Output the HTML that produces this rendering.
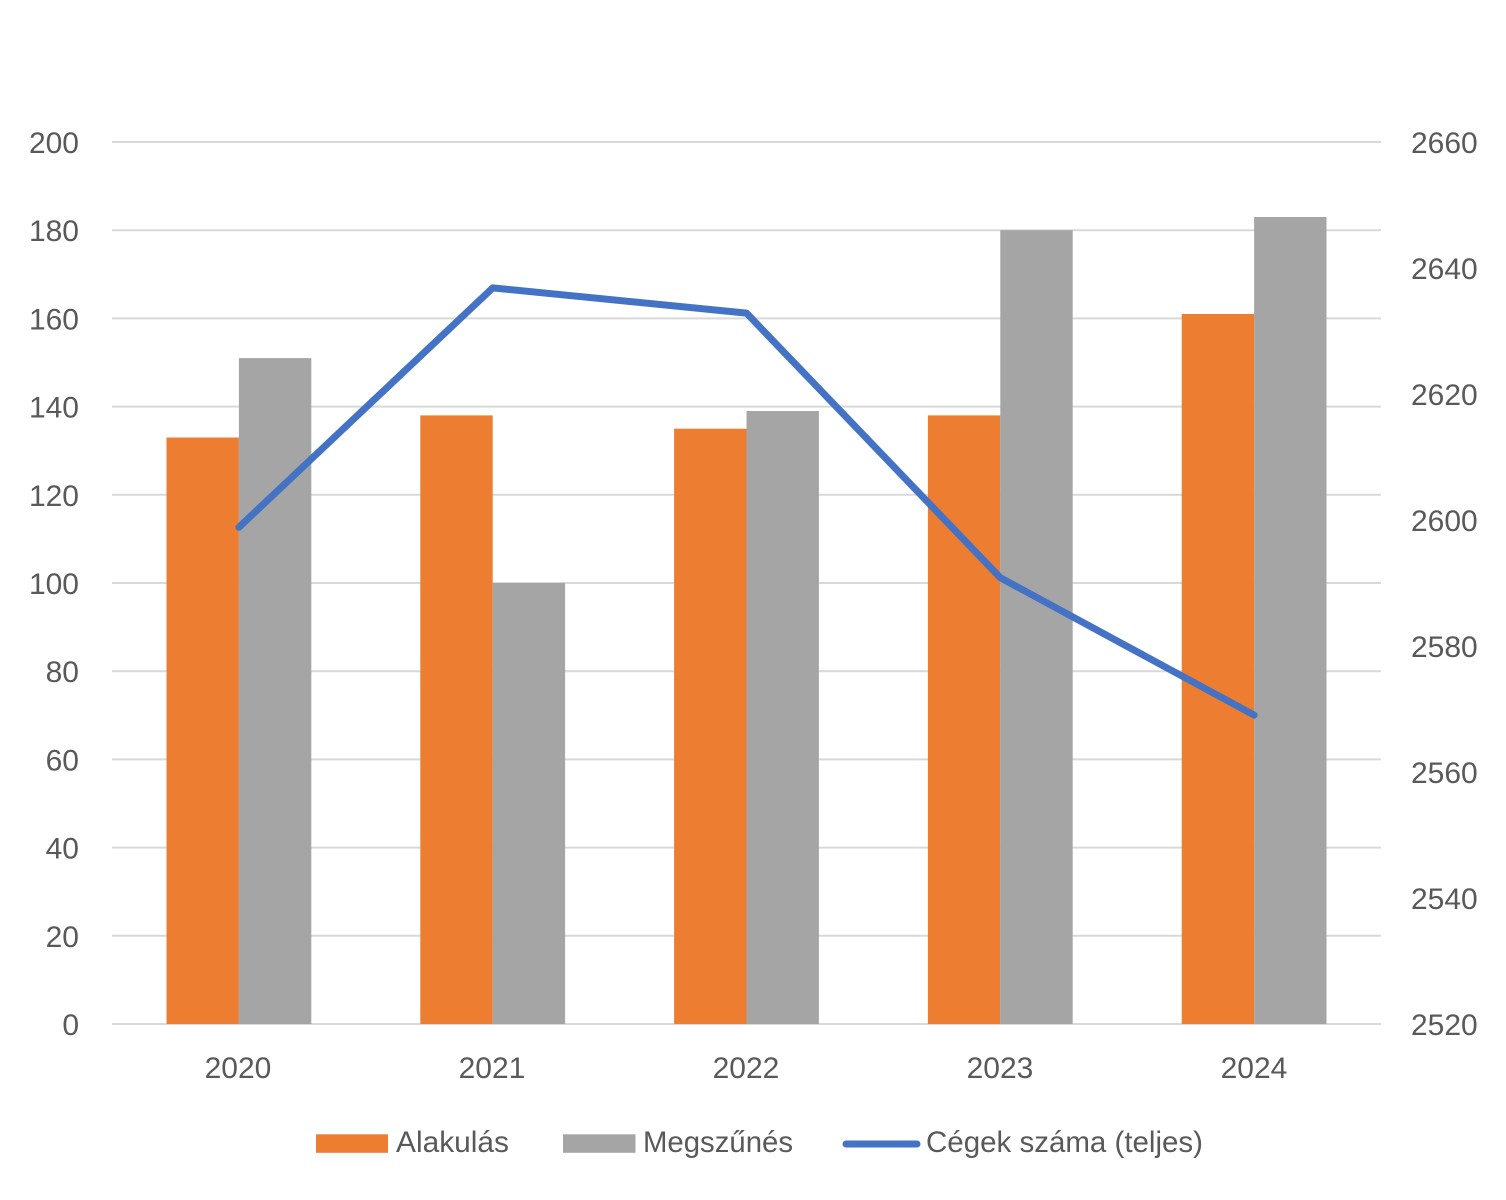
<!DOCTYPE html>
<html>
<head>
<meta charset="utf-8">
<style>
html,body{margin:0;padding:0;background:#fff;}
svg{display:block;}
text{font-family:"Liberation Sans",sans-serif;fill:#595959;font-size:30px;}
</style>
</head>
<body>
<svg width="1506" height="1200" viewBox="0 0 1506 1200" xmlns="http://www.w3.org/2000/svg">
<rect width="1506" height="1200" fill="#fff"/>
<g stroke="#D9D9D9" stroke-width="2">
<line x1="112" y1="142" x2="1381" y2="142"/>
<line x1="112" y1="230.2" x2="1381" y2="230.2"/>
<line x1="112" y1="318.4" x2="1381" y2="318.4"/>
<line x1="112" y1="406.6" x2="1381" y2="406.6"/>
<line x1="112" y1="494.8" x2="1381" y2="494.8"/>
<line x1="112" y1="583" x2="1381" y2="583"/>
<line x1="112" y1="671.2" x2="1381" y2="671.2"/>
<line x1="112" y1="759.4" x2="1381" y2="759.4"/>
<line x1="112" y1="847.6" x2="1381" y2="847.6"/>
<line x1="112" y1="935.8" x2="1381" y2="935.8"/>
<line x1="112" y1="1024" x2="1381" y2="1024"/>
</g>
<!-- bars: scale 4.41 px/unit, base 1024 -->
<g fill="#ED7D31">
<rect x="166.5" y="437.5" width="72.4" height="586.5"/>
<rect x="420.3" y="415.4" width="72.4" height="608.6"/>
<rect x="674.1" y="428.7" width="72.4" height="595.3"/>
<rect x="927.9" y="415.4" width="72.4" height="608.6"/>
<rect x="1181.7" y="314" width="72.4" height="710"/>
</g>
<g fill="#A5A5A5">
<rect x="238.9" y="358.1" width="72.4" height="665.9"/>
<rect x="492.7" y="583" width="72.4" height="441"/>
<rect x="746.5" y="411" width="72.4" height="613"/>
<rect x="1000.3" y="230.2" width="72.4" height="793.8"/>
<rect x="1254.1" y="217" width="72.4" height="807"/>
</g>
<polyline points="238.9,527.3 492.7,287.9 746.5,313.1 1000.3,577.7 1254.1,715.1" fill="none" stroke="#4472C4" stroke-width="7" stroke-linecap="round" stroke-linejoin="round"/>
<!-- left axis labels -->
<g text-anchor="end">
<text x="79" y="153">200</text>
<text x="79" y="241">180</text>
<text x="79" y="329.5">160</text>
<text x="79" y="417.5">140</text>
<text x="79" y="506">120</text>
<text x="79" y="594">100</text>
<text x="79" y="682">80</text>
<text x="79" y="770.5">60</text>
<text x="79" y="858.5">40</text>
<text x="79" y="947">20</text>
<text x="79" y="1035">0</text>
</g>
<!-- right axis labels -->
<g>
<text x="1411" y="153">2660</text>
<text x="1411" y="279">2640</text>
<text x="1411" y="405">2620</text>
<text x="1411" y="531">2600</text>
<text x="1411" y="657">2580</text>
<text x="1411" y="783">2560</text>
<text x="1411" y="909">2540</text>
<text x="1411" y="1035">2520</text>
</g>
<!-- x labels -->
<g text-anchor="middle">
<text x="238" y="1078">2020</text>
<text x="492" y="1078">2021</text>
<text x="746" y="1078">2022</text>
<text x="1000" y="1078">2023</text>
<text x="1254" y="1078">2024</text>
</g>
<!-- legend -->
<rect x="316" y="1134.3" width="72" height="18.5" fill="#ED7D31"/>
<text x="396" y="1152" textLength="113" lengthAdjust="spacingAndGlyphs">Alakulás</text>
<rect x="563" y="1134.3" width="72.5" height="18.5" fill="#A5A5A5"/>
<text x="643" y="1152" textLength="150" lengthAdjust="spacingAndGlyphs">Megszűnés</text>
<line x1="846" y1="1144" x2="917" y2="1144" stroke="#4472C4" stroke-width="7" stroke-linecap="round"/>
<text x="926" y="1152" textLength="277" lengthAdjust="spacingAndGlyphs">Cégek száma (teljes)</text>
</svg>
</body>
</html>
